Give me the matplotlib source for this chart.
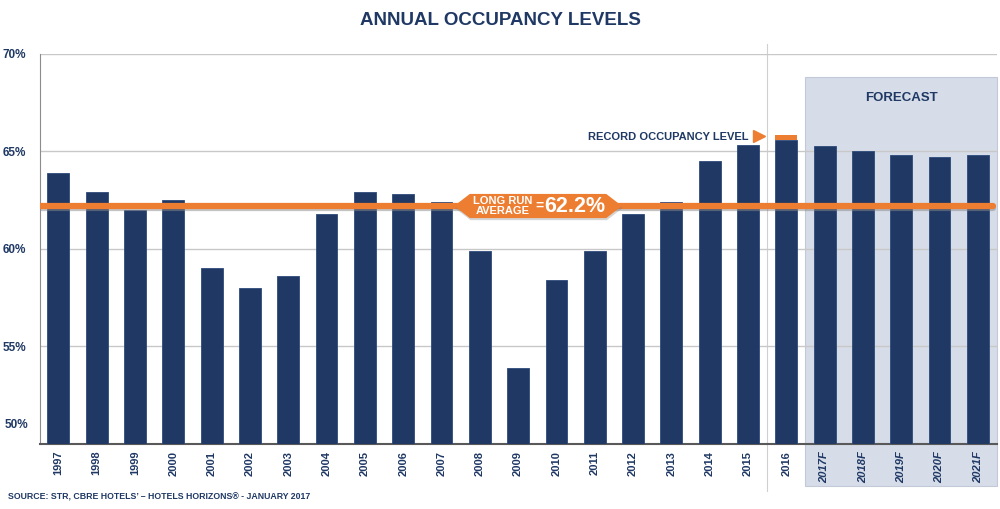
import matplotlib.pyplot as plt
import matplotlib.patheffects as pe
import matplotlib.transforms as mtrans
from matplotlib.patches import Polygon, Rectangle

plt.rcParams['font.family'] = ['Liberation Sans', 'DejaVu Sans']

years = ["1997", "1998", "1999", "2000", "2001", "2002", "2003", "2004", "2005",
         "2006", "2007", "2008", "2009", "2010", "2011", "2012", "2013", "2014",
         "2015", "2016", "2017F", "2018F", "2019F", "2020F", "2021F"]
occupancy = [63.9, 62.9, 62.0, 62.5, 59.0, 58.0, 58.6, 61.8, 62.9,
             62.8, 62.4, 59.9, 53.9, 58.4, 59.9, 61.8, 62.4, 64.5,
             65.35, 65.6, 65.3, 65.0, 64.8, 64.7, 64.8]
long_run_avg = 62.2
record_cap = 0.25
n_forecast = 5
yticks = [50, 55, 60, 65, 70]

navy = "#1f3864"
orange = "#ed7d31"

fig = plt.figure(figsize=(10, 5.09), dpi=100)
ax = fig.add_axes([0.04, 0.128, 0.957, 0.766])

x = list(range(len(years)))
ax.bar(x, occupancy, width=0.57, color=navy, edgecolor="#2c4a7c", linewidth=0.6, zorder=3)

# record cap on 2016
rec = len(years) - n_forecast - 1
ax.bar([rec], [record_cap], bottom=[occupancy[rec]], width=0.57, color=orange, zorder=3)

ax.set_xlim(-0.48, len(years) - 0.5)
ax.set_ylim(50, 70)

# forecast shade
f0 = len(years) - n_forecast - 0.5
ax.add_patch(Rectangle((f0, 47.85), n_forecast, 68.8 - 47.85, facecolor="#d6dce8",
                       edgecolor="#c3c9d6", linewidth=0.8, zorder=0, clip_on=False))
ax.text(f0 + n_forecast / 2, 67.75, "FORECAST", ha="center", va="center",
        fontsize=9.5, fontweight="bold", color=navy)

# separator line before 2016
ax.plot([rec - 0.5, rec - 0.5], [47.6, 70.5], color="#d0d0d0", lw=0.8, zorder=1, clip_on=False)

# grid
for t in yticks[1:]:
    ax.axhline(t, color="#c8c8c8", lw=1, zorder=1)

# long run average line
ax.plot([-0.48, len(years) - 0.6], [long_run_avg, long_run_avg], color=orange, lw=4.5,
        solid_capstyle="round", zorder=4,
        path_effects=[pe.SimpleLineShadow(offset=(0, -1.5), shadow_color="#888888", alpha=0.5),
                      pe.Normal()])

# callout
cx, hw, iw, hh = 12.52, 2.19, 1.78, 0.62
shape = Polygon([(cx - hw, long_run_avg), (cx - iw, long_run_avg + hh), (cx + iw, long_run_avg + hh),
                 (cx + hw, long_run_avg), (cx + iw, long_run_avg - hh), (cx - iw, long_run_avg - hh)],
                closed=True, facecolor=orange, edgecolor="none", zorder=5,
                path_effects=[pe.SimplePatchShadow(offset=(0.5, -1.5), shadow_rgbFace="#777777", alpha=0.3),
                              pe.Normal()])
ax.add_patch(shape)
ax.text(cx - 0.92, long_run_avg + 0.27, "LONG RUN", ha="center", va="center",
        fontsize=8, fontweight="bold", color="white", zorder=6)
ax.text(cx - 0.92, long_run_avg - 0.27, "AVERAGE", ha="center", va="center",
        fontsize=8, fontweight="bold", color="white", zorder=6)
ax.text(cx - 0.08, long_run_avg, "=", ha="left", va="center",
        fontsize=10, fontweight="bold", color="white", zorder=6)
ax.text(cx + 0.15, long_run_avg, f"{long_run_avg}%", ha="left", va="center",
        fontsize=15.5, fontweight="bold", color="white", zorder=6)

# record occupancy label
ax.text(rec - 0.99, occupancy[rec] + 0.15, "RECORD OCCUPANCY LEVEL", ha="right", va="center",
        fontsize=8, fontweight="bold", color=navy, zorder=6)
ax.plot([rec - 0.7], [occupancy[rec] + 0.2], marker=">", markersize=9, color=orange,
        zorder=6, clip_on=False)

# axes styling
for s in ["top", "right"]:
    ax.spines[s].set_visible(False)
ax.spines["left"].set_color("#8c8c8c")
ax.spines["bottom"].set_color("#595959")
ax.spines["bottom"].set_linewidth(1.5)

# y labels: the bottom one sits a bit above the axis line
ax.set_yticks(yticks)
ax.set_yticklabels([""] + [f"{t}%" for t in yticks[1:]], fontsize=8.5, fontweight="bold", color=navy)
ax.tick_params(axis="y", length=0, pad=10)
trans = mtrans.blended_transform_factory(ax.transAxes, ax.transData)
ax.text(-0.0125, yticks[0] + 0.95, f"{yticks[0]}%", transform=trans, ha="right", va="center",
        fontsize=8.5, fontweight="bold", color=navy)

ax.set_xticks(x)
ax.set_xticklabels(years, rotation=90, fontsize=8, fontweight="bold", color=navy)
ax.tick_params(axis="x", length=0, pad=5)
for lbl in ax.get_xticklabels()[-n_forecast:]:
    lbl.set_fontstyle("italic")

fig.text(0.5, 0.96, "ANNUAL OCCUPANCY LEVELS", ha="center", va="center",
         fontsize=13.5, fontweight="bold", color=navy)
fig.text(0.008, 0.024, "SOURCE: STR, CBRE HOTELS\u2019 \u2013 HOTELS HORIZONS\u00ae - JANUARY 2017",
         ha="left", va="center", fontsize=6.3, fontweight="bold", color=navy)

fig.savefig("out.png", dpi=100)
